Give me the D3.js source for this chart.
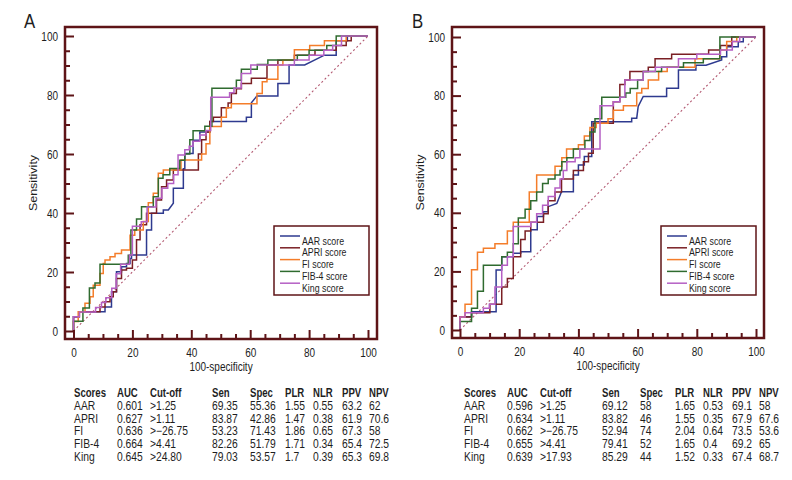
<!DOCTYPE html>
<html><head><meta charset="utf-8">
<script src="https://cdn.jsdelivr.net/npm/d3@7"></script>
<style>
body{margin:0;background:#fff;}
svg text{font-family:'Liberation Sans',Arial,sans-serif;fill:#1e1e1e;}
</style></head>
<body><svg id="c" width="792" height="480"></svg>
<script>
// ---------- DATA ----------
const seriesNames = ["AAR score","APRI score","FI score","FIB-4 score","King score"];
const seriesColors = ["#2e3a8f","#7a1f24","#f47d2a","#2f6b2f","#b55fc4"];
const majorTicks = [0,20,40,60,80,100];

// Panel A ROC corner points [100-specificity, sensitivity]
const aarA = [[0,0],[0,4.8],[1.9,4.8],[1.9,6.5],[10.7,6.5],[10.7,8.1],[12.9,8.1],[12.9,13.3],[14.6,13.3],[14.6,20.1],[16.3,20.1],[16.3,21.8],[18,21.8],[18,22.9],[19.2,22.9],[19.2,24.6],[19.7,24.6],[19.7,25.8],[24.8,25.8],[24.8,34.2],[26.5,34.2],[26.5,39.9],[30.5,39.9],[30.5,41],[32.2,41],[33.9,43.3],[33.9,48.4],[37.3,48.4],[37.3,55],[37.8,55],[37.8,60.2],[40.6,60.2],[40.6,64.7],[42.9,64.7],[42.9,67.5],[46.3,67.5],[46.3,71],[58.7,71],[58.7,72.5],[60.4,72.5],[60.4,77.4],[62.3,79.7],[69.4,79.7],[69.4,83.9],[73.2,83.9],[73.2,90.2],[78.5,90.2],[85.2,93.5],[89.2,93.5],[89.2,98.4],[93,98.4],[93,100],[100,100]];
const apriA = [[0,0],[0,4.8],[2,4.8],[2,6.5],[9,6.5],[9,8.1],[10.7,8.1],[10.7,9.9],[12.4,9.9],[12.4,11.6],[13.5,11.6],[13.5,13.3],[14.6,13.3],[14.6,17.8],[16.3,17.8],[16.3,20.7],[18,20.7],[18,21.3],[20,21.3],[20,24.1],[21.4,24.1],[21.4,30.9],[22.6,30.9],[22.6,36],[24.8,36],[24.8,39.9],[28.2,39.9],[28.2,44.4],[29.9,44.4],[29.9,48.9],[31.6,48.9],[31.6,51.2],[33.9,51.2],[33.9,54.6],[42.4,54.6],[42.4,60],[43.5,60],[43.5,64.8],[45,64.8],[45,67.5],[46.3,67.5],[46.3,71],[47.5,71],[47.5,72.5],[50.2,72.5],[50.2,75.7],[52.5,75.7],[52.5,77.3],[53.6,77.3],[53.6,80.5],[55.3,80.5],[55.3,82.1],[57,82.1],[57,83.9],[60.4,83.9],[60.4,85.7],[65.7,85.7],[65.7,90.2],[69.4,90.2],[69.4,91.8],[75,91.8],[75,93.5],[82,93.5],[82,95.2],[89.2,95.2],[89.2,96.8],[92.6,96.8],[92.6,98.4],[94.3,98.4],[94.3,100],[100,100]];
const fiA = [[0,0],[0,3.2],[1.6,3.2],[1.6,6.5],[3.9,6.5],[3.9,9.4],[5.6,9.4],[5.6,11.6],[6.7,11.6],[6.7,15.5],[9,15.5],[9,19.5],[10.1,19.5],[10.1,22.9],[10.7,22.9],[10.7,24.1],[12.4,24.1],[12.4,25.2],[14.1,25.2],[14.1,26.3],[16.3,26.3],[16.3,27.5],[19.2,27.5],[19.2,32.5],[20.8,32.5],[20.8,34.2],[23.7,34.2],[23.7,37.1],[25.4,37.1],[25.4,43.5],[27.1,43.5],[27.1,46.7],[28.8,46.7],[28.8,53.5],[30.5,53.5],[30.5,54.6],[36.5,54.6],[36.5,58],[43.5,58],[43.5,60],[45,60],[45,63.5],[46.3,63.5],[46.3,69.3],[50.2,69.3],[50.2,72.5],[51.9,72.5],[51.9,75.7],[53.6,75.7],[53.6,77],[62.3,77],[62.3,80.5],[64.1,80.5],[64.1,84.5],[65.7,84.5],[65.7,85.3],[69.4,85.3],[69.4,90.2],[71.1,90.2],[71.1,91.9],[75,91.9],[75,95.3],[80.2,95.3],[80.2,96.8],[85.2,96.8],[85.2,98.4],[92.6,98.4],[92.6,100],[100,100]];
const fib4A = [[0,0],[0,3.3],[3.2,3.3],[3.2,7.8],[5.4,7.8],[5.4,14.6],[7.3,14.6],[7.3,16.3],[9,16.3],[9,22.6],[18.6,22.6],[18.6,25.7],[19.5,25.7],[19.5,34.2],[21.4,34.2],[21.4,38],[23.1,38],[23.1,42.1],[27.1,42.1],[27.1,45.5],[28.8,45.5],[28.8,51.8],[30.4,51.8],[30.4,53],[32.7,53],[32.7,55.1],[36.1,55.1],[36.1,57.9],[37.8,57.9],[37.8,60],[39.5,60],[39.5,64.8],[40.6,64.8],[40.6,67.9],[44.6,67.9],[44.6,69.4],[47,69.4],[47,82.3],[55.3,82.3],[55.3,85],[57,85],[57,88.7],[62.4,88.7],[62.4,90.3],[66,90.3],[66,91.9],[76,91.9],[76,93.5],[80,93.5],[80,95.2],[86,95.2],[86,96.8],[89.2,96.8],[89.2,100],[100,100]];
const kingA = [[0,0],[0,4.8],[2,4.8],[2,6.4],[7.5,6.4],[7.5,8],[9.5,8],[9.5,9.7],[11,9.7],[11,11.3],[13,11.3],[13,14.5],[14.5,14.5],[14.5,19.4],[16,19.4],[16,22.6],[19,22.6],[19,25.8],[20,25.8],[20,35.5],[23,35.5],[23,37],[25,37],[25,42],[28,42],[28,45],[30,45],[30,48.4],[32,48.4],[32,50],[34,50],[34,53],[35.5,53],[35.5,59.7],[37.8,59.7],[37.8,61.4],[39.3,61.4],[39.3,62.6],[40.6,62.6],[40.6,64.3],[42.9,64.3],[42.9,66.4],[45,66.4],[45,68],[46.6,68],[46.6,79.2],[53,79.2],[53,80.8],[54.5,80.8],[54.5,82.4],[57,82.4],[57,87.3],[60.2,87.3],[60.2,90.2],[75,90.2],[75,91.9],[80,91.9],[80,93.5],[85,93.5],[85,95.2],[88,95.2],[88,96.8],[91,96.8],[91,100],[100,100]];

// Panel B ROC corner points
const aarB = [[0,0],[0,4.5],[3.9,4.5],[3.9,6.2],[12.2,6.2],[12.2,20.5],[14.1,20.5],[14.1,25],[18,25],[18,26.2],[20.5,26.2],[20.5,26.7],[23.9,26.7],[23.9,34.2],[26.1,34.2],[26.1,38.7],[28.2,38.7],[28.2,40.4],[29.8,40.4],[29.8,42.1],[32.7,43.2],[34.3,47.2],[38.3,47.2],[38.3,52.9],[40,52.9],[40,56.3],[42,56.3],[42,59.2],[44.5,59.2],[44.5,71.1],[58,71.1],[58,72.3],[59.7,72.3],[60.2,76.3],[61.9,79.7],[69.8,79.7],[69.8,82.5],[73.8,82.5],[73.8,88.7],[79.7,88.7],[79.7,90.4],[83.1,90.4],[88.4,92.2],[88.4,93.3],[90.1,93.3],[90.1,96.7],[94,96.7],[94,98.4],[95.7,98.4],[95.7,100],[100,100]];
const apriB = [[0,0],[0,4.4],[3.9,4.4],[3.9,5.9],[10.1,5.9],[10.1,8.8],[14.1,8.8],[14.1,14.7],[16,14.7],[16,17.6],[18,17.6],[18,25],[20.5,25],[20.5,30.9],[22,30.9],[22,33.8],[23.9,33.8],[23.9,36.8],[28.2,36.8],[28.2,39.7],[29.8,39.7],[29.8,44.1],[32.1,44.1],[32.1,47.1],[34.3,47.1],[34.3,51.5],[38.3,51.5],[38.3,54.4],[41.7,54.4],[41.7,57.4],[43.4,57.4],[43.4,60.3],[45,60.3],[45,70.6],[51.8,70.6],[51.8,77.9],[54,77.9],[54,83.8],[55.7,83.8],[55.7,85.3],[57.4,85.3],[57.4,88.2],[63.6,88.2],[63.6,89.7],[65.9,89.7],[65.9,92.6],[71.5,92.6],[71.5,94.1],[84,94.1],[84,95.6],[88,95.6],[88,97.1],[91.8,97.1],[91.8,100],[100,100]];
const fiB = [[0,0],[0,4.4],[1.7,4.4],[1.7,8.8],[3.9,8.8],[3.9,20.6],[5.9,20.6],[5.9,26.5],[7.9,26.5],[7.9,27.9],[11.8,27.9],[11.8,29.4],[16,29.4],[16,33.8],[18,33.8],[18,36.8],[23.4,36.8],[23.4,47.1],[25.9,47.1],[25.9,52.9],[32.1,52.9],[32.1,55.9],[34.4,55.9],[34.4,58.8],[36,58.8],[36,61.8],[40,61.8],[40,63.2],[42,63.2],[42,66.2],[43.9,66.2],[43.9,69.1],[46,69.1],[46,70.6],[50,70.6],[50,72.1],[51.8,72.1],[51.8,75],[55.2,75],[55.2,76.5],[59.7,76.5],[59.7,80.9],[61.4,80.9],[61.4,82.4],[63.6,82.4],[63.6,85.3],[67.1,85.3],[67.1,88.2],[70,88.2],[70,89.7],[79.4,89.7],[79.4,92.6],[87.8,92.6],[87.8,95.6],[90.1,95.6],[90.1,98.5],[93.5,98.5],[93.5,100],[100,100]];
const fib4B = [[0,0],[0,2.9],[3.9,2.9],[3.9,7.4],[5.9,7.4],[5.9,13.2],[7.9,13.2],[7.9,22.1],[14.1,22.1],[14.1,25],[16,25],[16,26.5],[18,26.5],[18,29.4],[19.7,29.4],[19.7,38.2],[22,38.2],[22,41.2],[23.9,41.2],[23.9,44.1],[25.9,44.1],[25.9,47.1],[27.9,47.1],[27.9,50],[29.8,50],[29.8,51.5],[32.1,51.5],[32.1,52.9],[33.8,52.9],[33.8,54.4],[34.4,54.4],[34.4,57.4],[36.1,57.4],[36.1,58.8],[38.3,58.8],[38.3,61.8],[42.2,61.8],[42.2,64.7],[43.9,64.7],[43.9,67.6],[45.6,67.6],[45.6,72.1],[47.9,72.1],[47.9,79.4],[56,79.4],[56,80.9],[57.5,80.9],[57.5,82.4],[60,82.4],[60,85.3],[61.9,85.3],[61.9,88.2],[68.1,88.2],[68.1,89.7],[75.5,89.7],[75.5,91.2],[82.2,91.2],[82.2,92.6],[87.8,92.6],[87.8,100],[100,100]];
const kingB = [[0,0],[0,4.4],[1.7,4.4],[1.7,5.9],[7.9,5.9],[7.9,7.4],[9.9,7.4],[9.9,8.8],[11.8,8.8],[11.8,14.7],[14.1,14.7],[14.1,22.1],[16,22.1],[16,25],[18,25],[18,35.3],[23.9,35.3],[23.9,36.8],[25.9,36.8],[25.9,39.7],[27.9,39.7],[27.9,42.6],[29.8,42.6],[29.8,45.6],[32.1,45.6],[32.1,48.5],[33.8,48.5],[33.8,51.5],[34.9,51.5],[34.9,54.4],[36.1,54.4],[36.1,57.4],[38.9,57.4],[38.9,58.8],[40.5,58.8],[40.5,61.8],[47.3,61.8],[47.3,76.5],[51.8,76.5],[51.8,77.9],[54,77.9],[54,79.4],[55.7,79.4],[55.7,85.3],[61.9,85.3],[61.9,88.2],[66,88.2],[66,89.7],[73.8,89.7],[73.8,92.6],[80,92.6],[80,94.1],[88,94.1],[88,95.6],[92,95.6],[92,98.5],[94.5,98.5],[94.5,100],[100,100]];

const tableHeader = ["Scores","AUC","Cut-off","Sen","Spec","PLR","NLR","PPV","NPV"];
const tableA = [
  ["AAR","0.601",">1.25","69.35","55.36","1.55","0.55","63.2","62"],
  ["APRI","0.627",">1.11","83.87","42.86","1.47","0.38","61.9","70.6"],
  ["FI","0.636",">\u221226.75","53.23","71.43","1.86","0.65","67.3","58"],
  ["FIB-4","0.664",">4.41","82.26","51.79","1.71","0.34","65.4","72.5"],
  ["King","0.645",">24.80","79.03","53.57","1.7","0.39","65.3","69.8"]
];
const tableB = [
  ["AAR","0.596",">1.25","69.12","58","1.65","0.53","69.1","58"],
  ["APRI","0.634",">1.11","83.82","46","1.55","0.35","67.9","67.6"],
  ["FI","0.662",">\u221226.75","52.94","74","2.04","0.64","73.5","53.6"],
  ["FIB-4","0.655",">4.41","79.41","52","1.65","0.4","69.2","65"],
  ["King","0.639",">17.93","85.29","44","1.52","0.33","67.4","68.7"]
];

// ---------- DRAW ----------
const svg = d3.select("#c");
const frameCol = "#5e1417";
const SX = 0.8;       // horizontal condensing of the font
const FS = 12;
const colOffsets = [0,43,76,138,176,211,239,268,295];

function txt(parent, x, y, s, opts={}){
  const t = parent.append("text")
    .attr("transform",`translate(${x},${y}) scale(${opts.sx||SX},1)${opts.rot?` rotate(${opts.rot})`:""}`)
    .attr("font-size",opts.fs||FS).text(s);
  if(opts.anchor) t.attr("text-anchor",opts.anchor);
  if(opts.bold) t.attr("font-weight","bold");
  return t;
}

function panel(cfg){
  const g = svg.append("g");
  const x = d3.scaleLinear().domain([0,100]).range([cfg.x0, cfg.x100]);
  const y = d3.scaleLinear().domain([0,100]).range([cfg.y0, cfg.y100]);
  const L = cfg.fl, R = cfg.fr, T = cfg.ft, B = cfg.fb;

  // diagonal reference
  g.append("line").attr("x1",x(0)).attr("y1",y(0)).attr("x2",x(100)).attr("y2",y(100))
    .attr("stroke","#b35a72").attr("stroke-width",1.1).attr("stroke-dasharray","2,2.5");

  // curves
  const line = d3.line().x(d=>x(d[0])).y(d=>y(d[1]));
  cfg.series.forEach((s,i)=>{
    g.append("path").attr("d",line(s)).attr("fill","none")
      .attr("stroke",seriesColors[i]).attr("stroke-width",1.5);
  });

  // axes
  const minor = d3.range(0,101,5).filter(v=>v%20!==0);
  const ax = g.append("g").attr("transform",`translate(${L},0)`);
  ax.call(d3.axisLeft(y).tickValues(majorTicks).tickSize(-9).tickPadding(7/SX));
  const ax2 = g.append("g").attr("transform",`translate(${L},0)`);
  ax2.call(d3.axisLeft(y).tickValues(minor).tickSize(-5).tickFormat(""));
  const bx = g.append("g").attr("transform",`translate(0,${B})`);
  bx.call(d3.axisBottom(x).tickValues(majorTicks).tickSize(-9).tickPadding(9));
  const bx2 = g.append("g").attr("transform",`translate(0,${B})`);
  bx2.call(d3.axisBottom(x).tickValues(minor).tickSize(-5).tickFormat(""));
  [ax,ax2,bx,bx2].forEach(a=>{
    a.select(".domain").remove();
    a.selectAll(".tick line").attr("stroke",frameCol).attr("stroke-width",2);
    a.selectAll(".tick text").attr("font-size",12.5).attr("fill","#1e1e1e")
      .attr("font-family","'Liberation Sans',Arial,sans-serif")
      .attr("transform",`scale(${SX},1)`);
  });

  // frame
  g.append("rect").attr("x",L).attr("y",T).attr("width",R-L).attr("height",B-T)
    .attr("fill","none").attr("stroke",frameCol).attr("stroke-width",2.5);

  // title
  txt(g, cfg.titleX, 28, cfg.title, {fs:21, sx:0.8});
  // axis labels
  txt(g, L-28, (T+B)/2, "Sensitivity", {anchor:"middle", rot:-90, fs:12.5});
  txt(g, (L+R)/2, B+32, "100-specificity", {anchor:"middle", fs:12.5});

  // legend
  const lg = g.append("g");
  lg.append("rect").attr("x",cfg.legX).attr("y",226).attr("width",95).attr("height",69)
    .attr("fill","#fff").attr("stroke",frameCol).attr("stroke-width",1.5);
  seriesNames.forEach((n,i)=>{
    const yy = 236 + i*11.8;
    lg.append("line").attr("x1",cfg.legX+6).attr("x2",cfg.legX+26).attr("y1",yy).attr("y2",yy)
      .attr("stroke",seriesColors[i]).attr("stroke-width",1.5);
    txt(lg, cfg.legX+28, yy+8.5, n, {fs:11});
  });

  // table
  const tg = g.append("g");
  const rowY = i => 397 + i*12.8;
  tableHeader.forEach((h,j)=>{
    txt(tg, cfg.tabX+colOffsets[j], rowY(0), h, {bold:true, sx:0.8});
  });
  cfg.table.forEach((row,i)=>{
    row.forEach((v,j)=>{
      txt(tg, cfg.tabX+colOffsets[j], rowY(i+1), v, {sx:0.86});
    });
  });
}

panel({title:"A",titleX:24,x0:73.5,x100:368,y0:331,y100:36,fl:65,fr:377,ft:27,fb:339,
  legX:274,tabX:74,series:[aarA,apriA,fiA,fib4A,kingA],table:tableA});
panel({title:"B",titleX:412,x0:460,x100:756,y0:330,y100:37,fl:452,fr:764,ft:27,fb:338,
  legX:661,tabX:464,series:[aarB,apriB,fiB,fib4B,kingB],table:tableB});
</script></body></html>
